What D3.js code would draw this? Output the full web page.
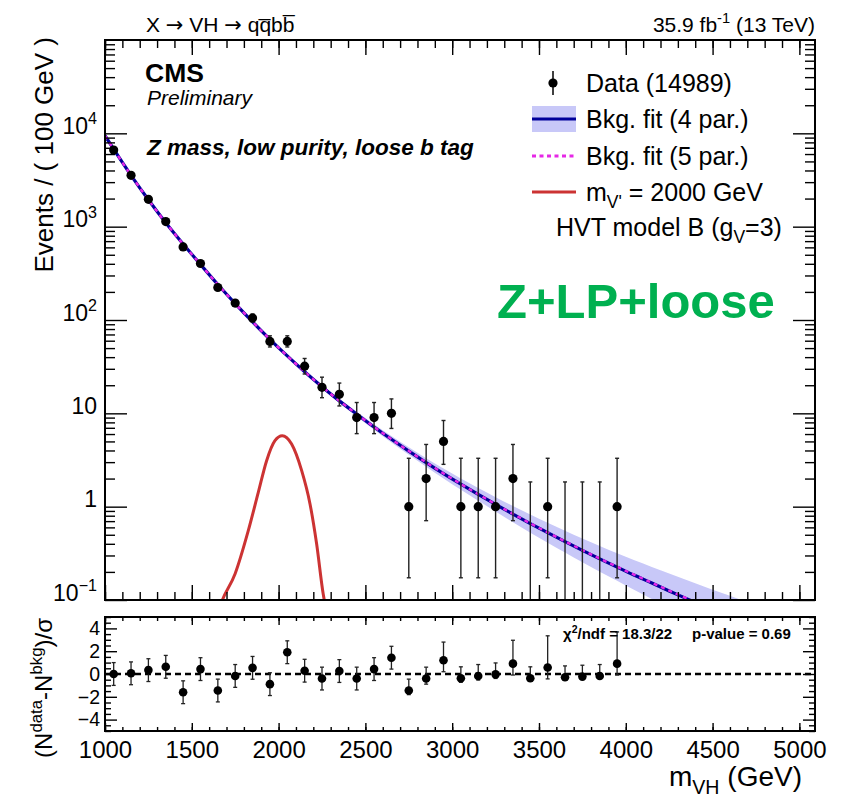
<!DOCTYPE html>
<html><head><meta charset="utf-8">
<script src="https://cdn.jsdelivr.net/npm/d3@7"></script>
<style>
body{margin:0;background:#fff}
svg{display:block}
text{font-family:"Liberation Sans",Arial,Helvetica,sans-serif;fill:#000}
</style>
</head><body>
<svg id="c" width="847" height="801"></svg>
<script>
// ---------------- data ----------------
const binCenters = [1050,1150,1250,1350,1450,1550,1650,1750,1850,1950,2050,2150,2250,2350,2450,2550,2650,2750,2850,2950,3050,3150,3250,3350,3450,3550,3650,3750,3850,3950];
const dataCounts = [6624,3550,1965,1133,606,403,223,152,105,59,59,32,19,16,9,9,10,1,2,5,1,1,1,2,0,1,0,0,0,1];
const dataLow  = [6543,3490,1921,1099,581,383,208,140,95,51.4,51.4,26.4,14.7,12.0,6.06,6.06,6.89,0.173,0.708,2.84,0.173,0.173,0.173,0.708,0,0.173,0,0,0,0.173];
const dataHigh = [6706,3611,2010,1167,631,424,239,165,116,67.7,67.7,38.7,24.4,21.1,13.06,13.06,14.27,3.30,4.64,8.38,3.30,3.30,3.30,4.64,1.84,3.30,1.84,1.84,1.84,3.30];

const pullValues  = [0.0,0.06,0.34,0.63,-1.6,0.43,-1.45,-0.17,0.54,-0.89,1.91,0.29,-0.4,0.26,-0.4,0.43,1.43,-1.45,-0.4,1.2,-0.37,-0.17,-0.03,0.91,-0.37,0.57,-0.29,-0.23,-0.17,0.91];
const pullErrDown = [1,1,1,1,1,1,1,1,1,1,1,1,1,1,1,1,1,0.36,0.49,1,0.36,0.36,0.36,1,0,1,0,0,0,1];
const pullErrUp   = [1,1,1,1,1,1,1,1,1,1,1,1,1,1,1,1,1,1,1,1.6,1,1,1,2.05,1,2.78,1,1,1,2.78];

const fitMass     = [1000,1050,1150,1250,1350,1450,1550,1650,1750,1850,1950,2050,2150,2250,2350,2450,2550,2650,2750,2850,2950,3050,3150,3250,3350,3450,3550,3650,3750,3850,3950,4050,4150,4250,4350,4450,4550,4650,4750,4850];
const fit4Values  = [9441,6761,3548,1941,1102,652,394,240,150,95.5,62.1,41.2,27.9,19.3,13.6,9.82,7.14,5.27,3.94,2.97,2.26,1.74,1.352,1.057,0.832,0.659,0.526,0.422,0.340,0.276,0.225,0.184,0.152,0.125,0.1035,0.0857,0.0710,0.0590,0.0490,0.0408];
const fit4BandLow = [9016,6486,3428,1884,1072,635,385,235,147,93.3,60.5,40.0,27.0,18.5,12.97,9.25,6.67,4.86,3.59,2.67,2.00,1.517,1.156,0.885,0.681,0.527,0.411,0.322,0.2535,0.2010,0.1605,0.1276,0.1025,0.0820,0.0656,0.0525,0.0422,0.0340,0.0273,0.0220];
const fit4BandHigh= [9886,7047,3673,2000,1132,668,404,246,153,97.7,63.7,42.5,28.9,20.1,14.35,10.42,7.66,5.71,4.32,3.30,2.56,2.00,1.581,1.262,1.016,0.824,0.673,0.552,0.455,0.378,0.316,0.2665,0.2262,0.1922,0.1633,0.1395,0.1194,0.1025,0.0880,0.0756];
const fit5Values  = [9450,6758,3550,1942,1101,651,394,240,150,95.6,62.1,41.2,27.9,19.3,13.6,9.83,7.15,5.28,3.95,2.98,2.27,1.75,1.357,1.062,0.836,0.663,0.530,0.425,0.343,0.278,0.227,0.186,0.153,0.126,0.1043,0.0864,0.0716,0.0595,0.0495,0.0412];

const signalMass   = [1650,1676,1749,1825,1883,1931,1979,2021,2075,2133,2181,2219,2257,2263,2275];
const signalValues = [0.075,0.10,0.19,0.55,1.42,3.11,5.09,5.75,4.69,2.43,1.07,0.40,0.116,0.10,0.075];

const xTickLabels   = [1000,1500,2000,2500,3000,3500,4000,4500,5000];
const yMainTicks    = [0.1,1,10,100,1000,10000];
const yMainLabels   = [["10","−1"],["1",""],["10",""],["10","2"],["10","3"],["10","4"]];
const yPullTicks    = [-4,-2,0,2,4];

// ---------------- layout ----------------
const L = 105, R = 815, T1 = 40, B1 = 600, T2 = 617, B2 = 731;
const svg = d3.select("#c");
const x = d3.scaleLinear().domain([1000, 5090]).range([L, R]);
const y = d3.scaleLog().domain([0.1, 1e5]).range([B1, T1]);
const yp = d3.scaleLinear().domain([-5, 5]).range([B2, T2]);

const BAND = "#c8c8f8", NAVY = "#00009a", MAG = "#e628e6", RED = "#cc3333";

function rich(sel, parts, fs) {
  let shift = 0;
  parts.forEach(p => {
    const target = p.sup ? -0.42 * fs : p.sub ? 0.28 * fs : 0;
    const ts = sel.append("tspan").attr("dy", target - shift)
      .attr("font-size", (p.sup || p.sub) ? fs * 0.7 : fs).text(p.t);
    if (p.font) ts.attr("font-family", p.font);
    shift = target;
  });
}

// clip
const defs = svg.append("defs");
defs.append("clipPath").attr("id", "clipMain").append("rect")
  .attr("x", L).attr("y", T1).attr("width", R - L).attr("height", B1 - T1);
defs.append("clipPath").attr("id", "clipPull").append("rect")
  .attr("x", L).attr("y", T2).attr("width", R - L).attr("height", B2 - T2);

const main = svg.append("g").attr("clip-path", "url(#clipMain)");

// band
const fitIdx = d3.range(fitMass.length);
main.append("path").datum(fitIdx)
  .attr("d", d3.area().curve(d3.curveMonotoneX)
    .x(i => x(fitMass[i])).y0(i => y(fit4BandLow[i])).y1(i => y(fit4BandHigh[i])))
  .attr("fill", BAND);

// signal
const sigIdx = d3.range(signalMass.length);
main.append("path").datum(sigIdx)
  .attr("d", d3.line().curve(d3.curveMonotoneX).x(i => x(signalMass[i])).y(i => y(signalValues[i])))
  .attr("fill", "none").attr("stroke", RED).attr("stroke-width", 3);

// fits
main.append("path").datum(fitIdx)
  .attr("d", d3.line().curve(d3.curveMonotoneX).x(i => x(fitMass[i])).y(i => y(fit4Values[i])))
  .attr("fill", "none").attr("stroke", NAVY).attr("stroke-width", 3.2);
main.append("path").datum(fitIdx)
  .attr("d", d3.line().curve(d3.curveMonotoneX).x(i => x(fitMass[i])).y(i => y(fit5Values[i])))
  .attr("fill", "none").attr("stroke", MAG).attr("stroke-width", 2.4).attr("stroke-dasharray", "4,4");

// data
const dIdx = d3.range(binCenters.length);
const dg = main.append("g");
dg.selectAll("line.eb").data(dIdx).enter().append("line")
  .attr("x1", i => x(binCenters[i])).attr("x2", i => x(binCenters[i]))
  .attr("y1", i => y(Math.max(dataLow[i], 0.1))).attr("y2", i => y(dataHigh[i]))
  .attr("stroke", "#222").attr("stroke-width", 1.4);
dg.selectAll("line.capT").data(dIdx).enter().append("line")
  .attr("x1", i => x(binCenters[i]) - 2).attr("x2", i => x(binCenters[i]) + 2)
  .attr("y1", i => y(dataHigh[i])).attr("y2", i => y(dataHigh[i]))
  .attr("stroke", "#222").attr("stroke-width", 1.4);
dg.selectAll("line.capB").data(dIdx.filter(i => dataLow[i] > 0)).enter().append("line")
  .attr("x1", i => x(binCenters[i]) - 2).attr("x2", i => x(binCenters[i]) + 2)
  .attr("y1", i => y(dataLow[i])).attr("y2", i => y(dataLow[i]))
  .attr("stroke", "#222").attr("stroke-width", 1.4);
dg.selectAll("circle").data(dIdx.filter(i => dataCounts[i] > 0)).enter().append("circle")
  .attr("cx", i => x(binCenters[i])).attr("cy", i => y(dataCounts[i])).attr("r", 4.6).attr("fill", "#000");

// main axes
function styleAxis(g) {
  g.select(".domain").remove();
  g.selectAll(".tick line").attr("stroke", "#000").attr("stroke-width", 1.4);
}
const minorX = d3.range(1000, 5001, 100);
const majorX = xTickLabels;
svg.append("g").attr("transform", `translate(0,${B1})`)
  .call(d3.axisBottom(x).tickValues(minorX).tickSize(-8).tickFormat("")).call(styleAxis);
svg.append("g").attr("transform", `translate(0,${B1})`)
  .call(d3.axisBottom(x).tickValues(majorX).tickSize(-15).tickFormat("")).call(styleAxis);
svg.append("g").attr("transform", `translate(0,${T1})`)
  .call(d3.axisTop(x).tickValues(minorX).tickSize(-8).tickFormat("")).call(styleAxis);
svg.append("g").attr("transform", `translate(0,${T1})`)
  .call(d3.axisTop(x).tickValues(majorX).tickSize(-15).tickFormat("")).call(styleAxis);

const minorY = [];
[0.1, 1, 10, 100, 1000, 10000].forEach(d => { for (let k = 2; k <= 9; k++) minorY.push(k * d); });
svg.append("g").attr("transform", `translate(${L},0)`)
  .call(d3.axisLeft(y).tickValues(minorY).tickSize(-10).tickFormat("")).call(styleAxis);
svg.append("g").attr("transform", `translate(${R},0)`)
  .call(d3.axisRight(y).tickValues(minorY).tickSize(-10).tickFormat("")).call(styleAxis);
svg.append("g").attr("transform", `translate(${R},0)`)
  .call(d3.axisRight(y).tickValues(yMainTicks).tickSize(-22).tickFormat("")).call(styleAxis);
const yAx = svg.append("g").attr("transform", `translate(${L},0)`)
  .call(d3.axisLeft(y).tickValues(yMainTicks).tickSize(-22).tickPadding(8).tickFormat(() => ""))
  .call(styleAxis);
yAx.selectAll(".tick text").each(function (d, i) {
  const t = d3.select(this).attr("font-size", 23).attr("font-family", null).attr("fill", "#000").attr("dy", "0.36em");
  const lab = yMainLabels[i];
  const parts = [{ t: lab[0] }];
  if (lab[1]) parts.push({ t: lab[1], sup: true });
  rich(t, parts, 23);
});

svg.append("rect").attr("x", L).attr("y", T1).attr("width", R - L).attr("height", B1 - T1)
  .attr("fill", "none").attr("stroke", "#000").attr("stroke-width", 2);

// ---------------- pull panel ----------------
const pg = svg.append("g").attr("clip-path", "url(#clipPull)");
pg.append("line").attr("x1", L).attr("x2", R).attr("y1", yp(0)).attr("y2", yp(0))
  .attr("stroke", "#000").attr("stroke-width", 2.4).attr("stroke-dasharray", "6,4");
pg.selectAll("line.peb").data(dIdx).enter().append("line")
  .attr("x1", i => x(binCenters[i])).attr("x2", i => x(binCenters[i]))
  .attr("y1", i => yp(pullValues[i] - pullErrDown[i])).attr("y2", i => yp(pullValues[i] + pullErrUp[i]))
  .attr("stroke", "#222").attr("stroke-width", 1.3);
pg.selectAll("line.pcapT").data(dIdx).enter().append("line")
  .attr("x1", i => x(binCenters[i]) - 2).attr("x2", i => x(binCenters[i]) + 2)
  .attr("y1", i => yp(pullValues[i] + pullErrUp[i])).attr("y2", i => yp(pullValues[i] + pullErrUp[i]))
  .attr("stroke", "#222").attr("stroke-width", 1.3);
pg.selectAll("line.pcapB").data(dIdx.filter(i => pullErrDown[i] > 0)).enter().append("line")
  .attr("x1", i => x(binCenters[i]) - 2).attr("x2", i => x(binCenters[i]) + 2)
  .attr("y1", i => yp(pullValues[i] - pullErrDown[i])).attr("y2", i => yp(pullValues[i] - pullErrDown[i]))
  .attr("stroke", "#222").attr("stroke-width", 1.3);
pg.selectAll("circle").data(dIdx).enter().append("circle")
  .attr("cx", i => x(binCenters[i])).attr("cy", i => yp(pullValues[i])).attr("r", 4.3).attr("fill", "#000");

svg.append("g").attr("transform", `translate(0,${B2})`)
  .call(d3.axisBottom(x).tickValues(minorX).tickSize(-4).tickFormat("")).call(styleAxis);
svg.append("g").attr("transform", `translate(0,${T2})`)
  .call(d3.axisTop(x).tickValues(minorX).tickSize(-4).tickFormat("")).call(styleAxis);
svg.append("g").attr("transform", `translate(0,${T2})`)
  .call(d3.axisTop(x).tickValues(majorX).tickSize(-8).tickFormat("")).call(styleAxis);
const xAx = svg.append("g").attr("transform", `translate(0,${B2})`)
  .call(d3.axisBottom(x).tickValues(majorX).tickSize(-8).tickPadding(10).tickFormat(d3.format("d")))
  .call(styleAxis);
xAx.selectAll(".tick text").attr("font-size", 24).attr("font-family", null).attr("fill", "#000");

const minorP = d3.range(-5, 5.01, 0.5).filter(v => Math.abs(v % 2) > 1e-9);
svg.append("g").attr("transform", `translate(${L},0)`)
  .call(d3.axisLeft(yp).tickValues(minorP).tickSize(-6).tickFormat("")).call(styleAxis);
svg.append("g").attr("transform", `translate(${R},0)`)
  .call(d3.axisRight(yp).tickValues(minorP).tickSize(-6).tickFormat("")).call(styleAxis);
svg.append("g").attr("transform", `translate(${R},0)`)
  .call(d3.axisRight(yp).tickValues(yPullTicks).tickSize(-12).tickFormat("")).call(styleAxis);
const ypAx = svg.append("g").attr("transform", `translate(${L},0)`)
  .call(d3.axisLeft(yp).tickValues(yPullTicks).tickSize(-12).tickPadding(5).tickFormat(d3.format("d")))
  .call(styleAxis);
ypAx.selectAll(".tick text").attr("font-size", 19.5).attr("font-family", null).attr("fill", "#000");

svg.append("rect").attr("x", L).attr("y", T2).attr("width", R - L).attr("height", B2 - T2)
  .attr("fill", "none").attr("stroke", "#000").attr("stroke-width", 2);

// chi2 text
const chi = svg.append("text").attr("x", 563).attr("y", 639).attr("font-weight", "bold");
rich(chi, [{ t: "χ" }, { t: "2", sup: true }, { t: "/ndf = 18.3/22" }], 15);
svg.append("text").attr("x", 692).attr("y", 639).attr("font-weight", "bold").attr("font-size", 15).text("p-value = 0.69");

// ---------------- titles ----------------
svg.append("text").attr("transform", "translate(53,37) rotate(-90)")
  .attr("text-anchor", "end").attr("font-size", 26).text("Events / ( 100 GeV )");
const ypt = svg.append("text").attr("transform", "translate(52,618) rotate(-90)").attr("text-anchor", "end");
rich(ypt, [{ t: "(N" }, { t: "data", sup: true }, { t: "-N" }, { t: "bkg", sup: true }, { t: ")/σ" }], 24);
const xt = svg.append("text").attr("x", 802).attr("y", 786).attr("text-anchor", "end");
rich(xt, [{ t: "m" }, { t: "VH", sub: true }, { t: " (GeV)" }], 28);

const hdr = svg.append("text").attr("x", 146).attr("y", 32);
rich(hdr, [{ t: "X " }, { t: "→", font: "DejaVu Sans" }, { t: " VH " }, { t: "→", font: "DejaVu Sans" }, { t: " qq\u0305bb\u0305" }], 21);
const lumi = svg.append("text").attr("x", 815).attr("y", 32).attr("text-anchor", "end");
rich(lumi, [{ t: "35.9 fb" }, { t: "-1", sup: true }, { t: "  (13 TeV)" }], 21);

svg.append("text").attr("x", 145).attr("y", 82).attr("font-size", 26.5).attr("font-weight", "bold").text("CMS");
svg.append("text").attr("x", 147).attr("y", 105).attr("font-size", 21).attr("font-style", "italic").text("Preliminary");
svg.append("text").attr("x", 147).attr("y", 155).attr("font-size", 22.5).attr("font-style", "italic")
  .attr("font-weight", "bold").text("Z mass, low purity, loose b tag");
svg.append("text").attr("x", 497).attr("y", 318).attr("font-size", 49).attr("font-weight", "bold")
  .style("fill", "#00b050").text("Z+LP+loose");

// ---------------- legend ----------------
const lg = svg.append("g");
lg.append("line").attr("x1", 553).attr("x2", 553).attr("y1", 71).attr("y2", 95).attr("stroke", "#000").attr("stroke-width", 1.5);
lg.append("circle").attr("cx", 553).attr("cy", 83).attr("r", 4.6).attr("fill", "#000");
lg.append("rect").attr("x", 532).attr("y", 106).attr("width", 44).attr("height", 26).attr("fill", BAND);
lg.append("line").attr("x1", 532).attr("x2", 576).attr("y1", 119).attr("y2", 119).attr("stroke", NAVY).attr("stroke-width", 3);
lg.append("line").attr("x1", 532).attr("x2", 576).attr("y1", 156).attr("y2", 156).attr("stroke", MAG).attr("stroke-width", 3).attr("stroke-dasharray", "4,3.5");
lg.append("line").attr("x1", 532).attr("x2", 576).attr("y1", 192).attr("y2", 192).attr("stroke", RED).attr("stroke-width", 3);
const LF = 25;
lg.append("text").attr("x", 586).attr("y", 92).attr("font-size", LF).text("Data (14989)");
lg.append("text").attr("x", 586).attr("y", 128).attr("font-size", LF).text("Bkg. fit (4 par.)");
lg.append("text").attr("x", 586).attr("y", 165).attr("font-size", LF).text("Bkg. fit (5 par.)");
const ls = lg.append("text").attr("x", 586).attr("y", 201);
rich(ls, [{ t: "m" }, { t: "V'", sub: true }, { t: " = 2000 GeV" }], LF);
const lh = lg.append("text").attr("x", 556).attr("y", 236);
rich(lh, [{ t: "HVT model B (g" }, { t: "V", sub: true }, { t: "=3)" }], LF);
</script>
</body></html>
